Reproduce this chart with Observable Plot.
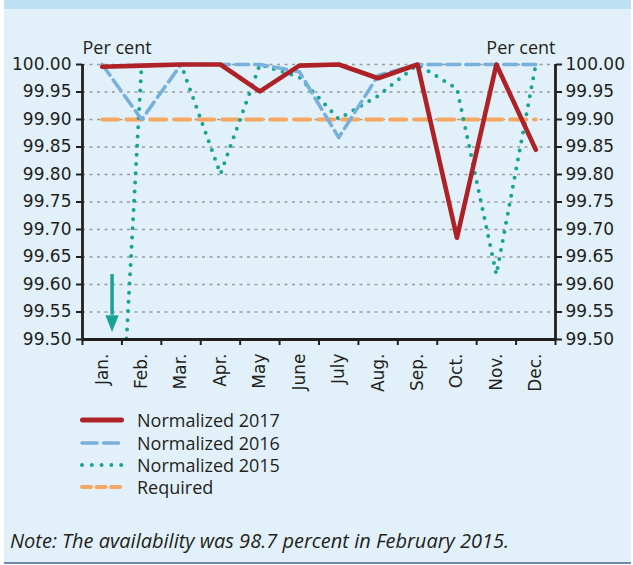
<!DOCTYPE html>
<html><head><meta charset="utf-8">
<script src="https://cdn.jsdelivr.net/npm/d3@7"></script>
<script src="https://cdn.jsdelivr.net/npm/@observablehq/plot@0.6"></script>
<style>
body{margin:0;background:#fff;}
#frame{position:absolute;left:4px;top:0;width:627px;height:562px;background:#e2f1f9;}
#topband{position:absolute;left:4px;top:0;width:627px;height:9px;background:#bde0f2;}
#bottomline{position:absolute;left:4px;top:562px;width:627px;height:2px;background:#7089ab;}
#chart{position:absolute;left:0;top:0;}
#legend{position:absolute;left:80px;top:409px;font-family:"Open Sans";font-size:18px;color:#231f20;}
.row{height:22.4px;display:flex;align-items:center;white-space:nowrap;}
.row svg{width:44px;height:10px;margin-right:13px;flex:none;}
#note{position:absolute;left:10px;top:527px;font-family:"Open Sans";font-style:italic;font-size:20px;line-height:28px;color:#231f20;white-space:nowrap;}
</style>
</head><body>
<div id="frame"></div><div id="topband"></div><div id="bottomline"></div>
<div id="chart"></div>
<div id="legend"></div>
<div id="note"></div>
<script>
const months = ["Jan.","Feb.","Mar.","Apr.","May","June","July","Aug.","Sep.","Oct.","Nov.","Dec."];
const normalized2017 = [99.996, 99.998, 100.0, 100.0, 99.951, 99.998, 100.0, 99.975, 100.0, 99.685, 100.0, 99.845];
const normalized2016 = [100.0, 99.90, 100.0, 100.0, 100.0, 99.987, 99.867, 99.980, 100.0, 100.0, 100.0, 100.0];
const normalized2015 = [98.7, 100.0, 100.0, 99.801, 100.0, 99.977, 99.901, 99.943, 100.0, 99.956, 99.618, 100.0];
const requiredVals = [99.90, 99.90, 99.90, 99.90, 99.90, 99.90, 99.90, 99.90, 99.90, 99.90, 99.90, 99.90];
const yTicks = [99.50, 99.55, 99.60, 99.65, 99.70, 99.75, 99.80, 99.85, 99.90, 99.95, 100.00];
const yDomain = [99.5, 100.0];
const axisLabel = "Per cent";
const noteText = "Note: The availability was 98.7 percent in February 2015.";
const arrowPos = [0.75];          // between Jan. and Feb. (month index units)
const arrowFrom = 99.618, arrowHeadBase = 99.544;

const legendItems = [
  {name:"Normalized 2017", key:"r17"},
  {name:"Normalized 2016", key:"r16"},
  {name:"Normalized 2015", key:"r15"},
  {name:"Required", key:"req"}
];

const C = {r17:"#ae2126", r16:"#78b0dc", r15:"#19a395", req:"#f5a661", axis:"#231f20", grid:"#9b9b9b"};

const monthPos = months.map((m,i)=>i+0.5);
const boundaries = months.map((m,i)=>i).concat([months.length]);
const toRows = vals => vals.map((v,i)=>({x:monthPos[i], y:v}));

const headSymbol = {
  draw(context, size){
    const r = Math.sqrt(size/Math.PI);
    context.moveTo(-0.95*r, 0);
    context.lineTo(0.95*r, 0);
    context.lineTo(0, 2.4*r);
    context.closePath();
  }
};

const chart = Plot.plot({
  width:633, height:400,
  marginLeft:82, marginRight:78, marginTop:64, marginBottom:61,
  style:{background:"transparent", fontFamily:"DejaVu Sans", fontSize:"17px", color:C.axis, overflow:"visible"},
  x:{type:"linear", domain:[0, months.length], axis:null},
  y:{domain:yDomain, axis:null},
  marks:[
    Plot.gridY(yTicks, {stroke:C.grid, strokeOpacity:1, strokeWidth:1.3, strokeDasharray:"3,4.5"}),
    Plot.line(toRows(requiredVals), {x:"x", y:"y", stroke:C.req, strokeWidth:4, strokeDasharray:"16,8", strokeLinecap:"round"}),
    Plot.line(toRows(normalized2015), {x:"x", y:"y", stroke:C.r15, strokeWidth:4, strokeDasharray:"0,9.2", strokeLinecap:"round", clip:true}),
    Plot.line(toRows(normalized2016), {x:"x", y:"y", stroke:C.r16, strokeWidth:3.6, strokeDasharray:"13,6", strokeLinecap:"round", strokeLinejoin:"round"}),
    Plot.line(toRows(normalized2017), {x:"x", y:"y", stroke:C.r17, strokeWidth:4.6, strokeLinecap:"round", strokeLinejoin:"round"}),
    Plot.ruleX(arrowPos, {y1:arrowFrom, y2:arrowHeadBase, stroke:C.r15, strokeWidth:3.5}),
    Plot.dot(arrowPos, {x:d=>d, y:()=>arrowHeadBase, symbol:headSymbol, r:7, fill:C.r15, stroke:"none"}),
    Plot.ruleX([0, months.length], {stroke:C.axis, strokeWidth:2.8}),
    Plot.ruleY([yDomain[0]], {stroke:C.axis, strokeWidth:2.8}),
    Plot.axisY(yTicks, {anchor:"left", tickSize:6, tickPadding:5, strokeWidth:2, tickFormat:d=>d.toFixed(2), label:null}),
    Plot.axisY(yTicks, {anchor:"right", tickSize:6, tickPadding:4, strokeWidth:2, tickFormat:d=>d.toFixed(2), label:null}),
    Plot.axisX(boundaries, {anchor:"bottom", tickSize:6, strokeWidth:2, tickFormat:()=>"", label:null}),
    Plot.axisX(monthPos, {anchor:"bottom", tickSize:0, tickPadding:14, tickRotate:-90, tickFormat:d=>months[Math.floor(d)], label:null}),
    Plot.text([axisLabel], {frameAnchor:"top-left", textAnchor:"start", lineAnchor:"bottom", dy:-11, fontFamily:"Open Sans", fontSize:18, fill:C.axis}),
    Plot.text([axisLabel], {frameAnchor:"top-right", textAnchor:"end", lineAnchor:"bottom", dy:-11, fontFamily:"Open Sans", fontSize:18, fill:C.axis})
  ]
});
document.getElementById("chart").appendChild(chart);

const sample = {
  r17:`<line x1="2.5" y1="5" x2="41.5" y2="5" stroke="${C.r17}" stroke-width="5" stroke-linecap="round"/>`,
  r16:`<line x1="2" y1="5" x2="42" y2="5" stroke="${C.r16}" stroke-width="3.6" stroke-linecap="round" stroke-dasharray="15,6.5"/>`,
  r15:`<line x1="2" y1="5" x2="42" y2="5" stroke="${C.r15}" stroke-width="4" stroke-linecap="round" stroke-dasharray="0,9.8"/>`,
  req:`<line x1="2" y1="5" x2="42" y2="5" stroke="${C.req}" stroke-width="4" stroke-linecap="round" stroke-dasharray="9,5.5"/>`
};
const legend = document.getElementById("legend");
legendItems.forEach(it=>{
  const row = document.createElement("div");
  row.className = "row";
  row.innerHTML = `<svg viewBox="0 0 44 10">${sample[it.key]}</svg><span>${it.name}</span>`;
  legend.appendChild(row);
});
document.getElementById("note").textContent = noteText;
</script>
</body></html>
